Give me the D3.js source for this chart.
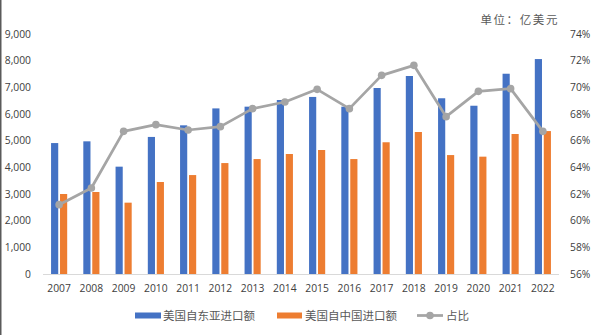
<!DOCTYPE html>
<html>
<head>
<meta charset="utf-8">
<script src="https://cdn.jsdelivr.net/npm/d3@7"></script>
<style>
  html, body { margin: 0; padding: 0; background: #fff; }
  svg { display: block; }
  text { font-family: "Open Sans", "Noto Sans CJK SC", sans-serif; }
</style>
</head>
<body>
<svg id="chart" width="599" height="335"></svg>
<script>
const years = ["2007","2008","2009","2010","2011","2012","2013","2014","2015","2016","2017","2018","2019","2020","2021","2022"];
const eastAsia = [4910, 4975, 4025, 5140, 5575, 6210, 6275, 6525, 6640, 6275, 6975, 7425, 6590, 6310, 7510, 8060];
const china = [3000, 3075, 2675, 3450, 3710, 4160, 4310, 4500, 4650, 4310, 4940, 5325, 4460, 4400, 5250, 5360];
const share = [61.2, 62.45, 66.7, 67.2, 66.8, 67.05, 68.4, 68.9, 69.85, 68.4, 70.9, 71.65, 67.8, 69.7, 69.9, 66.7];
const leftTicks = [0, 1000, 2000, 3000, 4000, 5000, 6000, 7000, 8000, 9000];
const rightTicks = [56, 58, 60, 62, 64, 66, 68, 70, 72, 74];
const seriesNames = ["美国自东亚进口额", "美国自中国进口额", "占比"];
const unitLabel = "单位：亿美元";

const colors = { ea: "#4472C4", cn: "#ED7D31", line: "#A5A5A5", text: "#595959" };

const svg = d3.select("#chart");

// left border line
svg.append("rect").attr("x", 0).attr("y", 0).attr("width", 1.5).attr("height", 335).attr("fill", "#5a5a5a");

const x = d3.scaleBand().domain(years).range([43, 559]).paddingInner(0.5).paddingOuter(0.25);
const x1 = d3.scaleBand().domain(["ea", "cn"]).range([0, x.bandwidth()]).paddingInner(0.2);
const yL = d3.scaleLinear().domain([0, 9000]).range([274, 34]);
const yR = d3.scaleLinear().domain([56, 74]).range([274, 34]);

// left axis
const axL = svg.append("g").attr("transform", "translate(31,0)")
  .call(d3.axisLeft(yL).tickValues(leftTicks).tickSize(0).tickPadding(0).tickFormat(d3.format(",")));
axL.select(".domain").remove();
axL.selectAll("text").attr("font-size", 10.3).attr("fill", "#404040").attr("font-family", "Open Sans");

// right axis
const axR = svg.append("g").attr("transform", "translate(570,0)")
  .call(d3.axisRight(yR).tickValues(rightTicks).tickSize(0).tickPadding(0).tickFormat(d => d + "%"));
axR.select(".domain").remove();
axR.selectAll("text").attr("font-size", 10.3).attr("fill", "#404040").attr("font-family", "Open Sans");

// bars
const g = svg.append("g");
years.forEach((yr, i) => {
  g.append("rect").attr("x", x(yr) + x1("ea")).attr("y", yL(eastAsia[i]))
    .attr("width", x1.bandwidth()).attr("height", yL(0) - yL(eastAsia[i])).attr("fill", colors.ea);
  g.append("rect").attr("x", x(yr) + x1("cn")).attr("y", yL(china[i]))
    .attr("width", x1.bandwidth()).attr("height", yL(0) - yL(china[i])).attr("fill", colors.cn);
});

// baseline
svg.append("line").attr("x1", 43).attr("x2", 559).attr("y1", yL(0) + 0.5).attr("y2", yL(0) + 0.5)
  .attr("stroke", "#D9D9D9").attr("stroke-width", 1);

// x axis labels
const axX = svg.append("g").attr("transform", "translate(0,285)")
  .call(d3.axisBottom(x).tickSize(0).tickPadding(0));
axX.select(".domain").remove();
axX.selectAll("text").attr("font-size", 10.3).attr("fill", "#404040").attr("font-family", "Open Sans");

// line
const cx = yr => x(yr) + x.bandwidth() / 2;
const line = d3.line().x((d, i) => cx(years[i])).y(d => yR(d));
svg.append("path").datum(share).attr("d", line).attr("fill", "none")
  .attr("stroke", colors.line).attr("stroke-width", 2.75).attr("stroke-linejoin", "round");
svg.selectAll("circle.pt").data(share).enter().append("circle").attr("class", "pt")
  .attr("cx", (d, i) => cx(years[i])).attr("cy", d => yR(d)).attr("r", 3.8).attr("fill", colors.line);

// unit label
svg.append("text").attr("x", 559).attr("y", 19).attr("text-anchor", "end").attr("dominant-baseline", "central")
  .attr("font-size", 11.5).attr("letter-spacing", 1.6).attr("fill", colors.text)
  .attr("font-family", "Noto Sans CJK SC").text(unitLabel);

// legend
const lg = svg.append("g");
const ly = 315.5;
lg.append("rect").attr("x", 135).attr("y", ly - 3).attr("width", 26).attr("height", 6).attr("fill", colors.ea);
lg.append("text").attr("x", 163).attr("y", ly).attr("dominant-baseline", "central").attr("font-size", 11.5)
  .attr("fill", colors.text).attr("font-family", "Noto Sans CJK SC").text(seriesNames[0]);
lg.append("rect").attr("x", 277).attr("y", ly - 3).attr("width", 25).attr("height", 6).attr("fill", colors.cn);
lg.append("text").attr("x", 305).attr("y", ly).attr("dominant-baseline", "central").attr("font-size", 11.5)
  .attr("fill", colors.text).attr("font-family", "Noto Sans CJK SC").text(seriesNames[1]);
lg.append("line").attr("x1", 417).attr("x2", 443).attr("y1", ly).attr("y2", ly)
  .attr("stroke", colors.line).attr("stroke-width", 2.75);
lg.append("circle").attr("cx", 430).attr("cy", ly).attr("r", 3.8).attr("fill", colors.line);
lg.append("text").attr("x", 446).attr("y", ly).attr("dominant-baseline", "central").attr("font-size", 11.5)
  .attr("fill", colors.text).attr("font-family", "Noto Sans CJK SC").text(seriesNames[2]);
</script>
</body>
</html>
